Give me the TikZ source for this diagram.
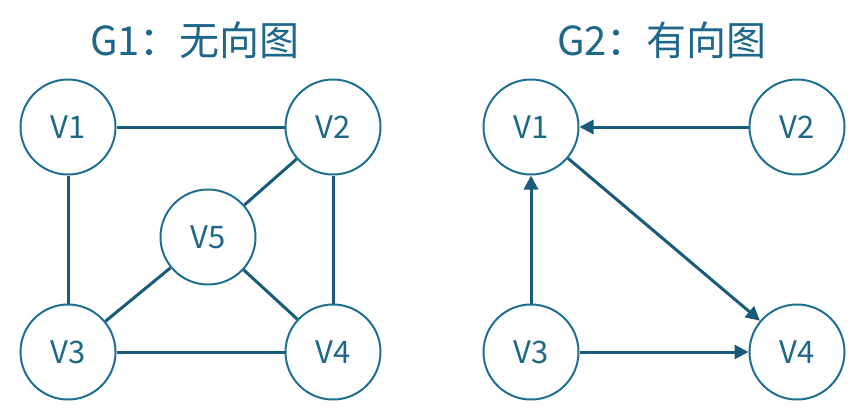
\documentclass[tikz,border=0pt]{standalone}
\usepackage{fontspec}
\setmainfont{Noto Sans CJK SC}
\newfontfamily\cjk{Noto Sans CJK SC}
\usetikzlibrary{arrows.meta}
\definecolor{circ}{HTML}{1F6F92}
\definecolor{edge}{HTML}{195B7A}
\definecolor{txt}{HTML}{1D6788}
\begin{document}
\begin{tikzpicture}[x=1pt,y=-1pt,
  vnode/.style={circle,draw=circ,line width=2pt,minimum size=95pt,inner sep=0pt,text=txt,font=\fontsize{31}{31}\selectfont},
  uedge/.style={draw=edge,line width=3pt},
  dedge/.style={draw=edge,line width=3pt,-{Triangle[length=14pt,width=14pt]}},
  title/.style={text=txt,font=\cjk\fontsize{40}{40}\selectfont}]
\useasboundingbox (0,0) rectangle (859,416);
\node[title] (t1) at (195,40) {G1：无向图};
\node[title] (t2) at (662,40) {G2：有向图};
\node[vnode] (a1) at (68,127) {V1};
\node[vnode] (a2) at (333,127) {V2};
\node[vnode] (a5) at (208,237) {V5};
\node[vnode] (a3) at (68,352) {V3};
\node[vnode] (a4) at (333,352) {V4};
\draw[uedge] (a1) -- (a2);
\draw[uedge] (a1) -- (a3);
\draw[uedge] (a2) -- (a4);
\draw[uedge] (a3) -- (a4);
\draw[uedge] (a2) -- (a5);
\draw[uedge] (a3) -- (a5);
\draw[uedge] (a4) -- (a5);
\node[vnode] (b1) at (531,127) {V1};
\node[vnode] (b2) at (797,127) {V2};
\node[vnode] (b3) at (531,352) {V3};
\node[vnode] (b4) at (797,352) {V4};
\draw[dedge] (b2) -- (b1);
\draw[dedge] (b3) -- (b1);
\draw[dedge] (b1) -- (b4);
\draw[dedge] (b3) -- (b4);
\end{tikzpicture}
\end{document}
